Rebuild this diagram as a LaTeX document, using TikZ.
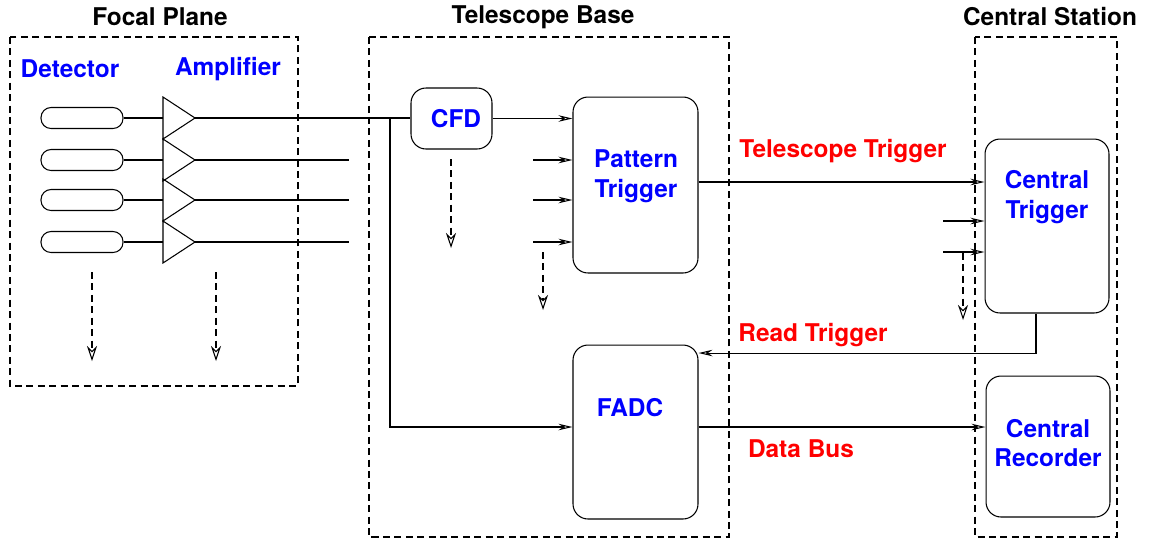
\documentclass[tikz,border=0pt]{standalone}
\usepackage{fontspec}
\setmainfont{TeX Gyre Heros}
\usepackage{tikz}
\usetikzlibrary{arrows.meta,calc}
\newcommand{\namecolor}{blue}
\newcommand{\buscolor}{red}
\newcommand{\lblfont}{\fontsize{13.9}{17}\selectfont\bfseries}

\tikzset{
  groupbox/.style={draw, dash pattern=on 4pt off 2.5pt},
  unitbox/.style={draw, rounded corners=0.3cm, inner sep=0pt},
  detector/.style={draw, rounded corners=0.2cm, minimum width=1.64cm, minimum height=0.42cm, inner sep=0pt},
  heading/.style={font=\lblfont},
  unitname/.style={font=\lblfont, text=\namecolor, align=center},
  busname/.style={font=\lblfont, text=\buscolor},
  sig/.style={-{Stealth[open, length=0.28cm, width=0.13cm]}},
  spare/.style={dash pattern=on 4pt off 2.5pt, -{Stealth[open, length=0.3cm, width=0.2cm]}},
}

\begin{document}
\begin{tikzpicture}[x=0.02cm, y=-0.02cm, line width=0.6pt]
\useasboundingbox (0,0) rectangle (1151,539);
%groups
\draw[groupbox] (10,37) rectangle (298,386);
\draw[groupbox] (369,37) rectangle (729,537);
\draw[groupbox] (975,37) rectangle (1117,537);
\node[heading] (fp) at (160,17) {Focal Plane};
\node[heading] (tb) at (543,17) {Telescope Base};
\node[heading] (cs) at (1050,17) {Central Station};
\node[unitname] (detlbl) at (70,69) {Detector};
\node[unitname] (amplbl) at (228,69) {Amplifier};
%detectors, amplifiers
\foreach \r/\yy in {1/118,2/160,3/200,4/242}{
  \node[detector] (det\r) at (82,\yy) {};
  \draw (163,\yy-21) -- (195,\yy) coordinate (amp\r) -- (163,\yy+21) -- cycle;
  \coordinate (ampin\r) at (163,\yy);
  \draw (det\r) -- (ampin\r);
}
\foreach \r/\yy in {2/160,3/200,4/242}{
  \coordinate (cut\r) at (349,\yy);
  \draw (amp\r) -- (cut\r);
}
%units
\node[unitbox, minimum width=1.62cm, minimum height=1.22cm] (cfd) at (451.5,118.5) {};
\node[unitbox, minimum width=2.5cm, minimum height=3.52cm] (pat) at (635.5,185) {};
\node[unitbox, minimum width=2.48cm, minimum height=3.48cm] (ctrig) at (1047,226) {};
\node[unitbox, minimum width=2.5cm, minimum height=3.48cm] (fadc) at (635.5,432) {};
\node[unitbox, minimum width=2.48cm, minimum height=2.82cm] (crec) at (1048,446.5) {};
\node[unitname] (cfdlbl) at (456,119) {CFD};
\node[unitname] (patlbl) at (636,176) {Pattern\\Trigger};
\node[unitname] (ctriglbl) at (1047,197) {Central\\Trigger};
\node[unitname] (fadclbl) at (630,408) {FADC};
\node[unitname] (creclbl) at (1048,443) {Central\\Recorder};
%signals
\draw (amp1) -- (amp1 -| cfd.west);
\coordinate (split) at (390,118);
\draw[sig] (split) |- ([yshift=0.1cm]fadc.west);
\draw[sig] (cfd.east) -- (cfd.east -| pat.west);
\foreach \yy in {160,200,242}{
  \coordinate (pin) at (533,\yy);
  \draw[sig] (pin) -- (pin -| pat.west);
}
\draw[sig] ([yshift=0.06cm]pat.east) -- ([yshift=0.06cm]pat.east -| ctrig.west);
\node[busname] (ttlbl) at (843,151) {Telescope Trigger};
\foreach \yy in {221,252}{
  \coordinate (cin) at (943,\yy);
  \draw[sig] (cin) -- (cin -| ctrig.west);
}
\draw[sig] ([xshift=-0.22cm]ctrig.south) |- ([yshift=1.58cm]fadc.east);
\node[busname] (rtlbl) at (813,335) {Read Trigger};
\draw[sig] ([yshift=0.1cm]fadc.east) -- ([yshift=0.1cm]fadc.east -| crec.west);
\node[busname] (dblbl) at (801,449) {Data Bus};
%spare outputs
\foreach \xx/\ya/\yb in {92/272/361, 216/272/361, 451/159/248, 543/252/310, 963/253/320}{
  \coordinate (sa) at (\xx,\ya);
  \coordinate (sb) at (\xx,\yb);
  \draw[spare] (sa) -- (sb);
}
\end{tikzpicture}
\end{document}
